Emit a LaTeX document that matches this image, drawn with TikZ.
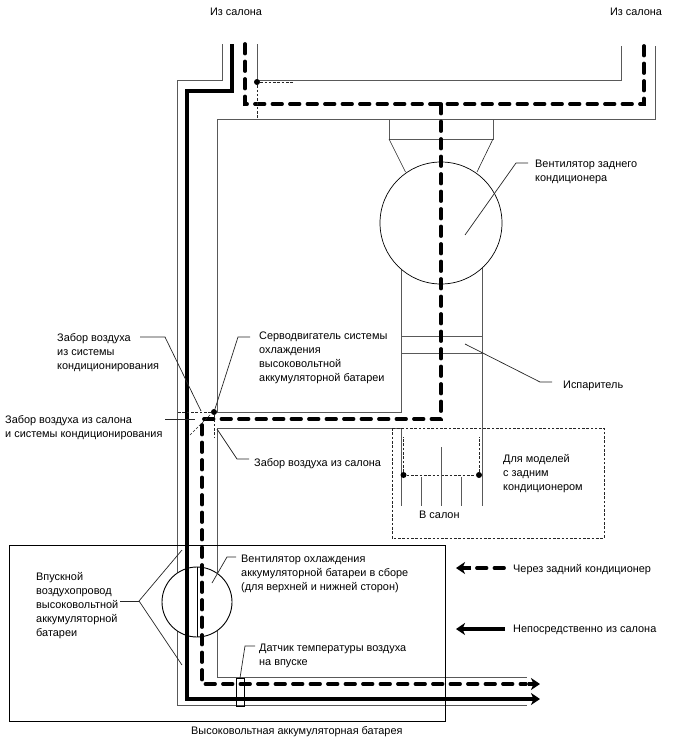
\documentclass[tikz,border=0pt]{standalone}
\usepackage{fontspec}
\setmainfont{Liberation Sans}
\usetikzlibrary{arrows.meta}
\tikzstyle{duct}=[draw=black!65, line width=0.8pt]
\tikzstyle{direct}=[draw=black, line width=3.4pt, line join=miter]
\tikzstyle{viaac}=[draw=black, line width=3.8pt, line cap=round, dash pattern=on 9.5pt off 8pt]
\tikzstyle{tip}=[-{Stealth[length=9pt, width=12pt, inset=2.5pt]}]
\tikzstyle{thin}=[draw=black!85, line width=0.6pt]
\tikzstyle{leader}=[draw=black!85, line width=0.7pt]
\tikzstyle{fine}=[draw=black!85, line width=0.6pt, dash pattern=on 2.6pt off 1.7pt]
\tikzstyle{tag}=[inner sep=0pt, anchor=north west, align=left, font=\fontsize{10.9}{14}\selectfont]
\tikzstyle{fan}=[circle, draw=black, inner sep=0pt, fill=white]
\tikzstyle{dot}=[circle, fill=black, inner sep=0pt, minimum size=6pt]
\begin{document}
\begin{tikzpicture}[x=1pt, y=-1pt]
    \useasboundingbox (0, 0) rectangle (688, 755);
    % ducts
    \draw[duct] (222, 44) -- (222, 80) -- (177, 80) -- (177, 705) -- (527, 705);
    \draw[duct] (257, 44) -- (257, 80) -- (621, 80) -- (621, 46);
    \draw[duct] (655, 46) -- (655, 119) -- (217, 119) -- (217, 412) -- (401, 412) -- (401, 268);
    \draw[duct] (217, 428) -- (217, 677) -- (527, 677);
    \draw[duct] (217, 428) -- (401, 428) -- (401, 506);
    \draw[duct] (482, 268) -- (482, 506);
    % rear blower and evaporator
    \draw[duct] (389, 119) -- (389, 139) -- (493, 139) -- (493, 119);
    \draw[thin] (389, 139) -- (405.5, 172);
    \draw[thin] (493, 139) -- (477, 172);
    \node[fan, minimum size=122pt, line width=0.7pt] (RearFan) at (441, 223) {};
    \draw[duct] (401, 336) -- (482, 336);
    \draw[duct] (401, 353) -- (482, 353);
    % battery case and optional outlet
    \draw[thin, draw=black] (9, 545) rectangle (445, 721);
    \draw[fine] (392, 428) rectangle (604, 538);
    \node[dot] (OutL) at (403.5, 475) {};
    \node[dot] (OutR) at (479, 475) {};
    \draw[fine] (OutL) -- (OutR);
    \draw[fine] (OutL) -- (403.5, 437);
    \draw[fine] (OutR) -- (479, 437);
    \draw[duct] (421, 477) -- (421, 506);
    \draw[duct] (441, 447) -- (441, 506);
    \draw[duct] (461, 477) -- (461, 506);
    % battery blower
    \node[fan, minimum size=70pt, line width=0.9pt] (BatFan) at (197, 602) {};
    \draw[thin, draw=black] (BatFan.north) -- (BatFan.south);
    % air paths
    \draw[direct, tip] (232, 44) -- (232, 91) -- (187, 91) -- (187, 699) -- (540, 699);
    \draw[viaac] (245, 44) -- (245, 104) -- (644, 104) -- (644, 44);
    \draw[viaac] (441, 104) -- (441, 419) -- (202, 419) -- (202, 684) -- (526, 684);
    \draw[tip, draw=black, line width=3.4pt] (528, 684) -- (540, 684);
    % air damper and sensor
    \node[dot] (Top) at (257, 82) {};
    \draw[fine] (Top) -- (293, 82);
    \draw[fine] (Top) -- (257, 119);
    \node[dot] (Servo) at (214, 412) {};
    \draw[fine] (Servo) -- (177, 412);
    \draw[fine] (Servo) -- (214, 437);
    \draw[fine] (190, 435) -- (211, 414);
    \draw[thin, draw=black] (236, 678) rectangle (244, 706);
    % labels
    \node[inner sep=0pt, font=\fontsize{10.9}{14}\selectfont] (SrcL) at (236, 12) {Из салона};
    \node[inner sep=0pt, font=\fontsize{10.9}{14}\selectfont] (SrcR) at (636, 12) {Из салона};
    \node[tag] (RearFanTxt) at (535, 160) {Вентилятор заднего\\кондиционера};
    \node[tag] (EvapTxt) at (563, 381) {Испаритель};
    \node[tag] (AcTxt) at (57, 333) {Забор воздуха\\из системы\\кондиционирования};
    \node[tag] (ServoTxt) at (259, 332) {Серводвигатель системы\\охлаждения\\высоковольтной\\аккумуляторной батареи};
    \node[tag] (MixTxt) at (5, 415) {Забор воздуха из салона\\и системы кондиционирования};
    \node[tag] (CabinTxt) at (254, 458) {Забор воздуха из салона};
    \node[tag] (ModelTxt) at (503, 454) {Для моделей\\с задним\\кондиционером};
    \node[tag] (OutTxt) at (419, 511) {В салон};
    \node[tag] (BatFanTxt) at (241, 555) {Вентилятор охлаждения\\аккумуляторной батареи в сборе\\(для верхней и нижней сторон)};
    \node[tag] (InTxt) at (36, 572) {Впускной\\воздухопровод\\высоковольтной\\аккумуляторной\\батареи};
    \node[tag] (SensTxt) at (259, 644) {Датчик температуры воздуха\\на впуске};
    \node[tag] (BatTxt) at (191, 726) {Высоковольтная аккумуляторная батарея};
    \node[tag] (LegA) at (513, 564) {Через задний кондиционер};
    \node[tag] (LegB) at (513, 625) {Непосредственно из салона};
    % leaders
    \draw[leader] (465, 235) -- (516, 163) -- (528, 163);
    \draw[leader] (465, 344) -- (540, 382) -- (552, 382);
    \draw[leader] (140, 337) -- (165, 337) -- (201, 411);
    \draw[leader] (Servo) -- (238, 337) -- (250, 337);
    \draw[leader] (165, 419) -- (195, 419);
    \draw[leader] (217, 429) -- (237, 459) -- (249, 459);
    \draw[leader] (212, 583) -- (227, 557) -- (236, 557);
    \draw[leader] (182, 550) -- (139, 601) -- (182, 665);
    \draw[leader] (139, 601) -- (120, 601);
    \draw[leader] (240, 678) -- (245, 646) -- (255, 646);
    % legend
    \draw[tip, draw=black, line width=3.4pt] (471, 568) -- (456, 568);
    \draw[viaac] (477, 568) -- (504, 568);
    \draw[direct, tip] (505, 629) -- (456, 629);
\end{tikzpicture}
\end{document}
